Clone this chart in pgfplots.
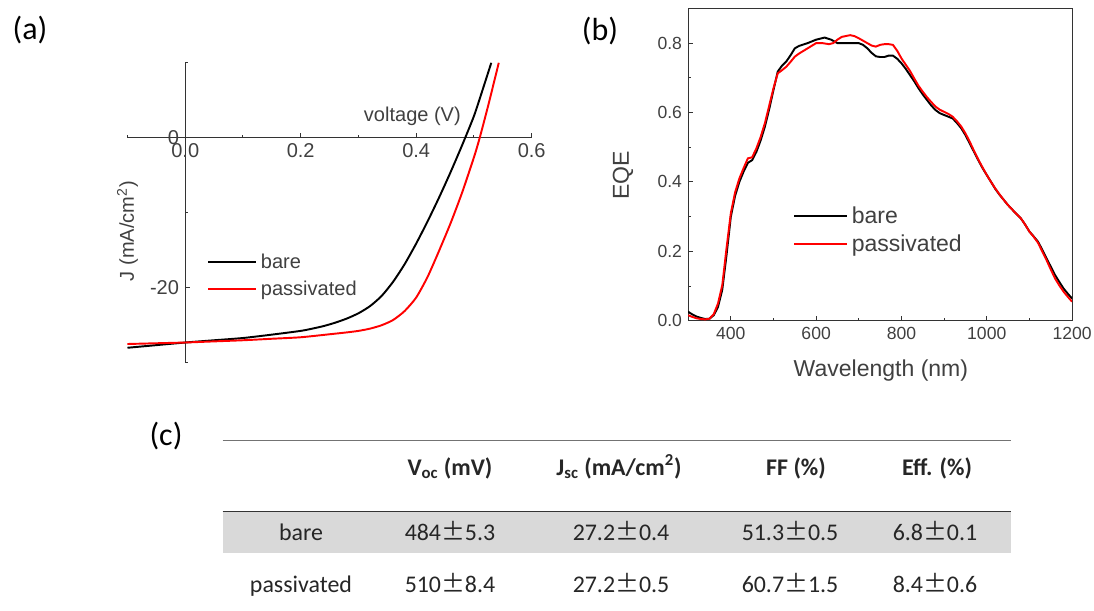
\documentclass[border=0pt]{standalone}
\usepackage{fontspec}
\setmainfont{Liberation Sans}
\newfontfamily\calfont{Carlito}
\newfontfamily\cjk{Noto Sans CJK SC}
\usepackage{pgfplots}
\pgfplotsset{compat=1.18}

\definecolor{txt}{HTML}{404040}
\definecolor{band}{HTML}{D9D9D9}
\newcommand\pmx{{\cjk ±}}

\begin{document}
\begin{tikzpicture}[x=0.02cm,y=0.02cm]
\path[use as bounding box] (0,0) rectangle (1094,610);

% panel letters
\node[font=\calfont\fontsize{18.2}{22}\selectfont] at (30,580) {(a)};
\node[font=\calfont\fontsize{18.2}{22}\selectfont] at (600,579) {(b)};
\node[font=\calfont\fontsize{18.2}{22}\selectfont] at (166,174) {(c)};

% (a) J-V
\begin{axis}[
  at={(2.55cm,4.946cm)}, anchor=south west,
  scale only axis, width=8.086cm, height=6cm,
  axis lines=middle, axis line style={-, black!80, line width=0.7pt},
  xmin=-0.1, xmax=0.6, ymin=-30, ymax=10, enlargelimits=false,
  xtick={0,0.2,0.4,0.6}, minor xtick={-0.1,0.1,0.3,0.5},
  ytick={-20,0}, minor ytick={-30,-10,10},
  tick align=inside, major tick length=0.1cm, minor tick length=0.06cm,
  tick style={black!80, line width=0.6pt},
  hide obscured x ticks=false, hide obscured y ticks=false,
  xticklabel style={/pgf/number format/.cd, fixed, fixed zerofill, precision=1},
  /pgf/number format/assume math mode=true,
  ticklabel style={font=\fontsize{11.4}{13}\selectfont, text=txt},
  xlabel={voltage (V)}, ylabel={J (mA/cm\textsuperscript{2})},
  xlabel style={at={(axis description cs:0.84,0.822)}, anchor=east,
    font=\fontsize{11.4}{13}\selectfont, text=txt},
  ylabel style={at={(axis description cs:0,0.439)}, anchor=center, rotate=90,
    font=\fontsize{11.4}{13}\selectfont, text=txt},
  legend style={draw=none, fill=none, at={(0.197,0.29)}, anchor=west,
    font=\fontsize{11.4}{13}\selectfont, text=txt, row sep=0.06cm, inner sep=0pt},
  legend cell align=left,
  legend image code/.code={\draw[#1] (0cm,0cm) -- (0.96cm,0cm);},
]
\addplot[black, line width=1.1pt, smooth, tension=0.4] coordinates {
  (-0.10,-28.0) (-0.05,-27.65) (0.00,-27.3) (0.05,-27.0) (0.10,-26.7)
  (0.15,-26.25) (0.20,-25.75) (0.22,-25.45) (0.24,-25.1) (0.26,-24.65)
  (0.28,-24.1) (0.30,-23.4) (0.32,-22.45) (0.34,-21.1) (0.36,-19.2)
  (0.38,-16.85) (0.40,-14.1) (0.42,-11.1) (0.44,-7.9) (0.46,-4.5)
  (0.48,-0.9) (0.50,2.9) (0.515,6.4) (0.53,10.0)};
\addlegendentry{bare}
\addplot[red, line width=1.1pt, smooth, tension=0.4] coordinates {
  (-0.10,-27.5) (-0.05,-27.4) (0.00,-27.3) (0.05,-27.15) (0.10,-27.0)
  (0.15,-26.8) (0.20,-26.6) (0.25,-26.2) (0.28,-25.95) (0.30,-25.75)
  (0.32,-25.45) (0.34,-25.0) (0.36,-24.3) (0.38,-23.1) (0.40,-21.3)
  (0.42,-18.5) (0.44,-15.0) (0.46,-11.3) (0.48,-7.2) (0.50,-2.6)
  (0.51,0.0) (0.525,4.4) (0.543,10.0)};
\addlegendentry{passivated}
\end{axis}

% (b) EQE
\begin{axis}[
  at={(13.766cm,5.786cm)}, anchor=south west,
  scale only axis, width=7.68cm, height=6.248cm,
  xmin=300, xmax=1200, ymin=0, ymax=0.9,
  axis line style={black!80, line width=0.6pt},
  xtick={400,600,800,1000,1200}, minor xtick={500,700,900,1100},
  ytick={0,0.2,0.4,0.6,0.8}, minor ytick={0.1,0.3,0.5,0.7},
  xtick pos=bottom, ytick pos=left,
  tick align=inside, major tick length=0.1cm, minor tick length=0.06cm,
  tick style={black!80, line width=0.6pt},
  yticklabel style={/pgf/number format/.cd, fixed, fixed zerofill, precision=1},
  /pgf/number format/1000 sep={},
  /pgf/number format/assume math mode=true,
  ticklabel style={font=\fontsize{10}{12}\selectfont, text=txt},
  xlabel={Wavelength (nm)}, ylabel={EQE},
  xlabel style={at={(axis description cs:0.502,-0.158)}, anchor=center,
    font=\fontsize{13.1}{15}\selectfont, text=txt},
  ylabel style={at={(axis description cs:-0.17,0.466)}, anchor=center,
    font=\fontsize{13.1}{15}\selectfont, text=txt},
  legend style={draw=none, fill=none, at={(0.273,0.29)}, anchor=west,
    font=\fontsize{13.1}{15}\selectfont, text=txt, row sep=0.04cm, inner sep=0pt},
  legend cell align=left,
  legend image code/.code={\draw[#1] (0cm,0cm) -- (1.06cm,0cm);},
]
\addplot[black, line width=1.1pt] coordinates {
  (300,0.026) (310,0.018) (320,0.012) (330,0.008) (340,0.005) (350,0.006)
  (360,0.016) (370,0.04) (380,0.09) (390,0.19) (400,0.30) (410,0.36)
  (420,0.40) (430,0.43) (440,0.455) (450,0.463) (460,0.487) (470,0.52)
  (480,0.56) (490,0.61) (500,0.665) (510,0.718) (520,0.735) (530,0.747)
  (540,0.765) (550,0.785) (560,0.792) (580,0.80) (600,0.81) (620,0.816)
  (635,0.81) (650,0.80) (675,0.80) (700,0.80) (710,0.795) (720,0.785)
  (730,0.772) (740,0.762) (750,0.76) (760,0.76) (770,0.764) (780,0.764)
  (790,0.755) (800,0.742) (810,0.726) (820,0.708) (830,0.69) (840,0.67)
  (850,0.652) (860,0.636) (870,0.62) (880,0.607) (890,0.598) (900,0.593)
  (910,0.588) (920,0.583) (930,0.57) (940,0.555) (950,0.535) (960,0.511)
  (970,0.487) (980,0.463) (990,0.44) (1000,0.42) (1010,0.40) (1020,0.38)
  (1030,0.363) (1040,0.348) (1050,0.333) (1060,0.32) (1070,0.307) (1080,0.295)
  (1090,0.277) (1100,0.257) (1110,0.243) (1120,0.228) (1130,0.205) (1140,0.18)
  (1150,0.156) (1160,0.132) (1170,0.112) (1180,0.093) (1190,0.078) (1200,0.064)};
\addlegendentry{bare}
\addplot[red, line width=1.1pt] coordinates {
  (300,0.016) (310,0.011) (320,0.007) (330,0.005) (340,0.004) (350,0.006)
  (360,0.019) (370,0.05) (380,0.103) (390,0.21) (400,0.31) (410,0.37)
  (420,0.41) (430,0.44) (440,0.468) (450,0.471) (460,0.497) (470,0.53)
  (480,0.57) (490,0.62) (500,0.67) (510,0.713) (520,0.722) (530,0.732)
  (540,0.746) (550,0.761) (560,0.77) (580,0.785) (600,0.80) (615,0.80)
  (630,0.797) (640,0.80) (650,0.81) (660,0.818) (680,0.823) (690,0.82)
  (700,0.814) (710,0.807) (720,0.80) (730,0.793) (740,0.79) (750,0.795)
  (760,0.797) (770,0.797) (780,0.795) (790,0.778) (800,0.756) (810,0.738)
  (820,0.72) (830,0.698) (840,0.677) (850,0.66) (860,0.644) (870,0.63)
  (880,0.617) (890,0.608) (900,0.602) (910,0.596) (920,0.588) (930,0.575)
  (940,0.56) (950,0.54) (960,0.516) (970,0.49) (980,0.465) (990,0.442)
  (1000,0.42) (1010,0.40) (1020,0.381) (1030,0.364) (1040,0.348) (1050,0.333)
  (1060,0.32) (1070,0.307) (1080,0.295) (1090,0.277) (1100,0.257) (1110,0.242)
  (1120,0.225) (1130,0.20) (1140,0.175) (1150,0.148) (1160,0.122) (1170,0.102)
  (1180,0.084) (1190,0.069) (1200,0.055)};
\addlegendentry{passivated}
\end{axis}

% (c) table
\fill[band] (222.7,98.3) rectangle (1011,57.3);
\draw[black!55, line width=0.6pt] (222.7,169.3) -- (1011,169.3);
\draw[black!80, line width=0.8pt] (222.7,98.3) -- (1011,98.3);
\begin{scope}[every node/.style={anchor=base, inner sep=0pt,
    font=\calfont\fontsize{13.6}{16}\selectfont, text=black!85}]
\node at (450,135) {\textbf{V\textsubscript{oc} (mV)}};
\node at (619,135) {\textbf{J\textsubscript{sc} (mA/cm\textsuperscript{2})}};
\node at (796,135) {\textbf{FF (\%)}};
\node at (937,135) {\textbf{Eff. (\%)}};
\node at (301,70) {bare};
\node at (450,70) {484\pmx 5.3};
\node at (621,70) {27.2\pmx 0.4};
\node at (790,70) {51.3\pmx 0.5};
\node at (935,70) {6.8\pmx 0.1};
\node at (301,18) {passivated};
\node at (450,18) {510\pmx 8.4};
\node at (621,18) {27.2\pmx 0.5};
\node at (790,18) {60.7\pmx 1.5};
\node at (935,18) {8.4\pmx 0.6};
\end{scope}
\end{tikzpicture}
\end{document}
